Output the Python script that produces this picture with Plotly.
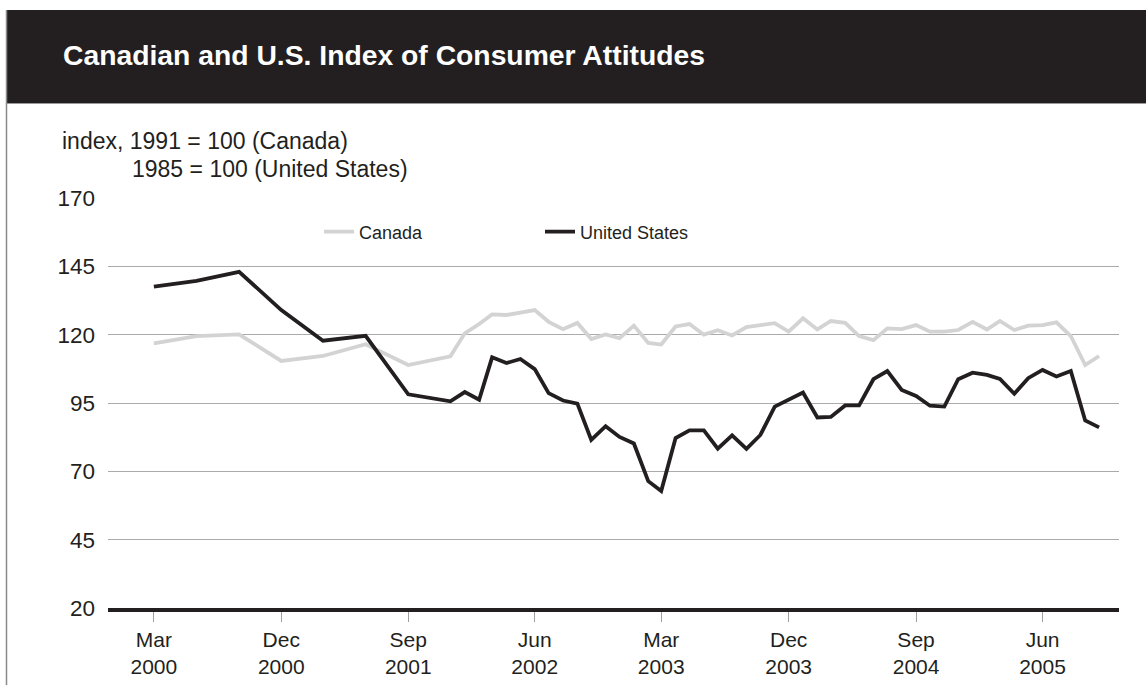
import plotly.graph_objects as go

# Survey months: quarterly to the end of 2001, monthly afterwards
months = [
    "2000-03", "2000-06", "2000-09", "2000-12", "2001-03", "2001-06", "2001-09", "2001-12",
    "2002-01", "2002-02", "2002-03", "2002-04", "2002-05", "2002-06",
    "2002-07", "2002-08", "2002-09", "2002-10", "2002-11", "2002-12",
    "2003-01", "2003-02", "2003-03", "2003-04", "2003-05", "2003-06",
    "2003-07", "2003-08", "2003-09", "2003-10", "2003-11", "2003-12",
    "2004-01", "2004-02", "2004-03", "2004-04", "2004-05", "2004-06",
    "2004-07", "2004-08", "2004-09", "2004-10", "2004-11", "2004-12",
    "2005-01", "2005-02", "2005-03", "2005-04", "2005-05", "2005-06",
    "2005-07", "2005-08", "2005-09", "2005-10",
]

canada = [
    116.8, 119.5, 120.1, 110.4, 112.2, 116.5, 108.9, 112.1,
    120.5, 123.9, 127.4, 127.2, 128.1, 129.0,
    124.7, 122.0, 124.3, 118.4, 120.1, 118.7,
    123.3, 117.0, 116.4, 123.0, 123.9, 120.0,
    121.6, 119.7, 122.8, 123.6, 124.2, 121.1,
    126.0, 121.9, 125.0, 124.3, 119.5, 118.0,
    122.3, 122.0, 123.5, 121.1, 121.1, 121.7,
    124.7, 121.9, 125.0, 121.7, 123.3, 123.5,
    124.5, 119.5, 108.9, 112.2,
]

united_states = [
    137.6, 139.7, 143.0, 129.0, 117.8, 119.6, 98.2, 95.6,
    99.0, 96.2, 111.7, 109.6, 111.1, 107.4,
    98.6, 95.9, 94.8, 81.5, 86.5, 82.6,
    80.2, 66.4, 62.8, 82.2, 85.0, 85.0,
    78.3, 83.2, 78.2, 83.3, 93.7, 96.3,
    98.8, 89.7, 89.9, 94.1, 94.1, 103.7,
    106.7, 99.8, 97.6, 94.0, 93.7, 103.7,
    106.1, 105.3, 103.8, 98.4, 104.1, 107.1,
    104.7, 106.7, 88.6, 86.1,
]

tick_months = ["2000-03", "2000-12", "2001-09", "2002-06",
               "2003-03", "2003-12", "2004-09", "2005-06"]
tick_text = ["Mar<br>2000", "Dec<br>2000", "Sep<br>2001", "Jun<br>2002",
             "Mar<br>2003", "Dec<br>2003", "Sep<br>2004", "Jun<br>2005"]
y_ticks = [20, 45, 70, 95, 120, 145, 170]

# Canvas and plot-area geometry (pixels)
W, H = 1146, 685
PL, PR, PT, PB = 108, 1119, 198, 608
INK = "#231f20"
FONT = "Liberation Sans, Arial, sans-serif"


def px(x):
    return (x - PL) / (PR - PL)


def py(y):
    return (PB - y) / (PB - PT)


fig = go.Figure()
fig.add_trace(go.Scatter(
    x=[m + "-01" for m in months], y=canada, name="Canada", mode="lines",
    line=dict(color="#d3d3d3", width=3.8),
))
fig.add_trace(go.Scatter(
    x=[m + "-01" for m in months], y=united_states, name="United States", mode="lines",
    line=dict(color=INK, width=3.8),
))

shapes = [
    # black title band
    dict(type="rect", xref="paper", yref="paper", x0=px(7), x1=px(W + 5),
         y0=py(103), y1=py(10), fillcolor=INK, line=dict(width=0), layer="below"),
    # thin rule under the band
    dict(type="line", xref="paper", yref="paper", x0=px(7), x1=px(W + 5),
         y0=py(103.5), y1=py(103.5), line=dict(color="#9a9a9a", width=1)),
    # left frame rule
    dict(type="line", xref="paper", yref="paper", x0=px(6.5), x1=px(6.5),
         y0=py(H + 5), y1=py(10), line=dict(color="#8a8a8a", width=1.5)),
]

annotations = [
    dict(text="<b>Canadian and U.S. Index of Consumer Attitudes</b>",
         xref="paper", yref="paper", x=px(61), y=py(55.5), xanchor="left", yanchor="middle",
         showarrow=False, font=dict(family="Liberation Sans Narrow, Arial Narrow, Liberation Sans, sans-serif",
                                    size=28.3, color="white")),
    dict(text="index, 1991 = 100 (Canada)", xref="paper", yref="paper",
         x=px(60), y=py(141), xanchor="left", yanchor="middle", showarrow=False,
         font=dict(family=FONT, size=23, color=INK)),
    dict(text="1985 = 100 (United States)", xref="paper", yref="paper",
         x=px(130), y=py(169), xanchor="left", yanchor="middle", showarrow=False,
         font=dict(family=FONT, size=23, color=INK)),
]

fig.update_layout(
    width=W, height=H,
    margin=dict(l=PL, r=W - PR, t=PT, b=H - PB, pad=0, autoexpand=False),
    paper_bgcolor="white", plot_bgcolor="white",
    font=dict(family=FONT, size=22, color=INK),
    shapes=shapes, annotations=annotations,
    showlegend=True,
    legend=dict(orientation="h", x=px(319), y=py(232), xanchor="left", yanchor="middle",
                entrywidth=176, entrywidthmode="pixels", font=dict(size=18, color=INK),
                bgcolor="rgba(0,0,0,0)", borderwidth=0, itemclick=False),
)

fig.update_xaxes(
    type="date", range=["1999-11-23", "2005-11-13"], automargin=False,
    tickvals=[m + "-01" for m in tick_months], ticktext=tick_text,
    showgrid=False, zeroline=False,
    showline=True, linecolor=INK, linewidth=3.5,
    ticks="outside", ticklen=10, tickwidth=1, tickcolor="#a0a0a0",
    tickfont=dict(size=21, color=INK),
)
fig.update_yaxes(
    range=[20, 170], tickvals=y_ticks, automargin=False,
    showgrid=True, gridcolor="#ababab", gridwidth=1.2, zeroline=False,
    showline=False, ticks="", ticklabelstandoff=12,
    tickfont=dict(size=22.5, color=INK),
)

fig.write_html("out.html")
